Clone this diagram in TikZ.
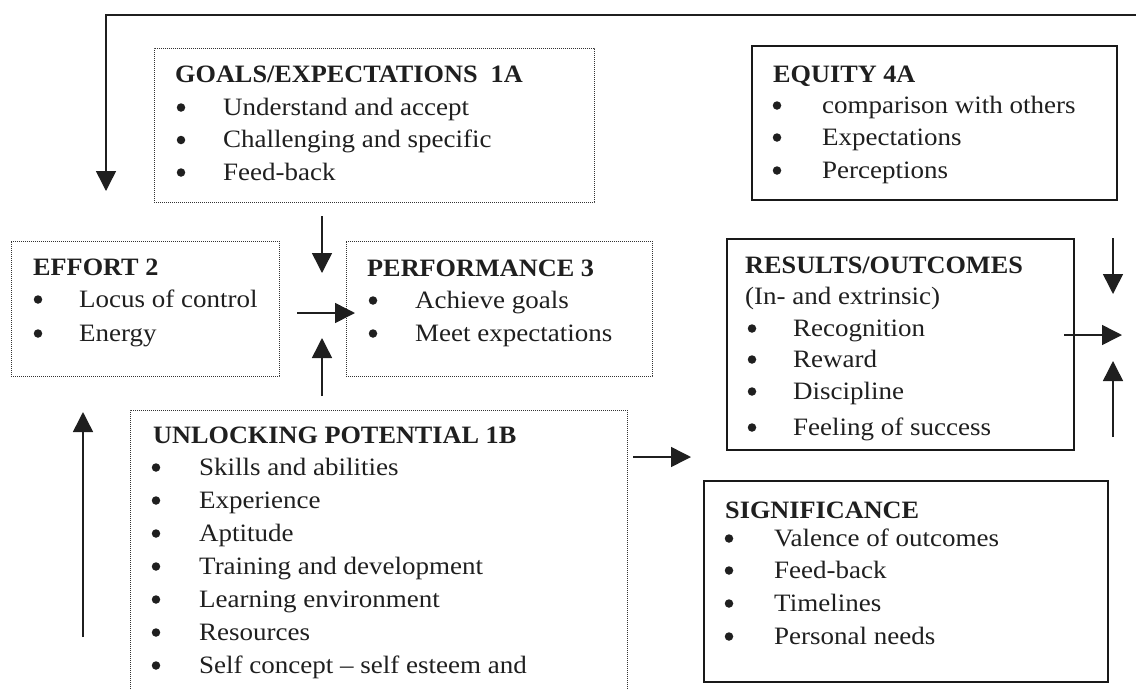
\documentclass[tikz,border=0pt]{standalone}
\usepackage{fontspec}
\setmainfont{Liberation Serif}[FakeStretch=1.08]
\newfontfamily\headfont{Liberation Serif}[FakeStretch=1.05]
\usetikzlibrary{arrows.meta}

% list lines: bullet plus text, each given as baseline/text
\newcommand\itemlist[4]{%
  \foreach \y/\t [count=\i] in {#4}{%
    \node[bul] (#1b\i) at (#2, \y-7.5) {};
    \node[txt] (#1t\i) at (#3, \y) {\t};
  }}

\begin{document}
\begin{tikzpicture}[x=1pt,y=-1pt,
  dotbox/.style={draw=black!80, line width=0.9pt, dash pattern=on 0.9pt off 1.1pt,
    rectangle, inner sep=0pt, outer sep=0pt, anchor=north west},
  solidbox/.style={draw=black!90, line width=1.4pt, rectangle, inner sep=0pt,
    outer sep=0pt, anchor=north west},
  txt/.style={anchor=base west, inner sep=0pt, text=black!88,
    font=\fontsize{25}{30}\selectfont},
  head/.style={txt, font=\fontsize{25}{30}\selectfont\headfont\bfseries},
  bul/.style={circle, fill=black!88, inner sep=0pt, minimum size=8.5pt},
  arr/.style={line width=1.5pt, draw=black!88, -{Triangle[length=20pt,width=20pt]}}
]
\useasboundingbox (0,0) rectangle (1136,689);

% ---- boxes ----
\node[dotbox, minimum width=440pt, minimum height=154pt] (goals) at (154,48) {};
\node[solidbox, minimum width=365pt, minimum height=154pt] (equity) at (752,46) {};
\node[dotbox, minimum width=268pt, minimum height=135pt] (effort) at (11,241) {};
\node[dotbox, minimum width=306pt, minimum height=135pt] (perf) at (346,241) {};
\node[solidbox, minimum width=347pt, minimum height=211pt] (results) at (727,239) {};
\node[solidbox, minimum width=404pt, minimum height=201pt] (signif) at (704,481) {};
\begin{scope}
  \clip (0,0) rectangle (1136,689);
  \node[dotbox, minimum width=497pt, minimum height=320pt] (unlock) at (130,410) {};
\end{scope}

% ---- texts ----
\node[head] (goalsh) at (175,82) {GOALS/EXPECTATIONS\ \ 1A};
\itemlist{goals}{181}{223}{115/Understand and accept, 147.5/Challenging and specific,
  180/Feed-back}

\node[head] (equityh) at (773,82) {EQUITY 4A};
\itemlist{equity}{777}{822}{113/comparison with others, 145/Expectations,
  178/Perceptions}

\node[head] (efforth) at (33,275) {EFFORT 2};
\itemlist{effort}{38}{79}{307/Locus of control, 341/Energy}

\node[head] (perfh) at (367,276) {PERFORMANCE 3};
\itemlist{perf}{373}{415}{308/Achieve goals, 341/Meet expectations}

\node[head] (resultsh) at (745,273) {RESULTS/OUTCOMES};
\node[txt] (resultss) at (745,304) {(In- and extrinsic)};
\itemlist{results}{752}{793}{336/Recognition, 367/Reward, 399/Discipline,
  435/Feeling of success}

\node[head] (unlockh) at (153,443) {UNLOCKING POTENTIAL 1B};
\itemlist{unlock}{156}{199}{475/Skills and abilities, 508/Experience, 541/Aptitude,
  574/Training and development, 607/Learning environment, 640/Resources,
  673/Self concept -- self esteem and}

\node[head] (signifh) at (725,518) {SIGNIFICANCE};
\itemlist{signif}{729}{774}{546/Valence of outcomes, 578/Feed-back, 611/Timelines,
  644/Personal needs}

% ---- connector ends ----
\coordinate (fbstart) at (1136,15);
\coordinate (fbcorner) at (106,15);
\coordinate (fbend) at (106,191);
\coordinate (gp1) at (322,216);  \coordinate (gp2) at (322,273);
\coordinate (ep1) at (297,313);  \coordinate (ep2) at (355,313);
\coordinate (up1) at (322,396);  \coordinate (up2) at (322,338);
\coordinate (ur1) at (633,457);  \coordinate (ur2) at (691,457);
\coordinate (lu1) at (83,637);   \coordinate (lu2) at (83,412);
\coordinate (rd1) at (1113,238); \coordinate (rd2) at (1113,294);
\coordinate (rr1) at (1064,335); \coordinate (rr2) at (1122,335);
\coordinate (ru1) at (1113,437); \coordinate (ru2) at (1113,361);

% ---- connectors ----
\draw[arr] (fbstart) -- (fbcorner) -- (fbend);
\draw[arr] (gp1) -- (gp2);
\draw[arr] (ep1) -- (ep2);
\draw[arr] (up1) -- (up2);
\draw[arr] (ur1) -- (ur2);
\draw[arr] (lu1) -- (lu2);
\draw[arr] (rd1) -- (rd2);
\draw[arr] (rr1) -- (rr2);
\draw[arr] (ru1) -- (ru2);
\end{tikzpicture}
\end{document}
